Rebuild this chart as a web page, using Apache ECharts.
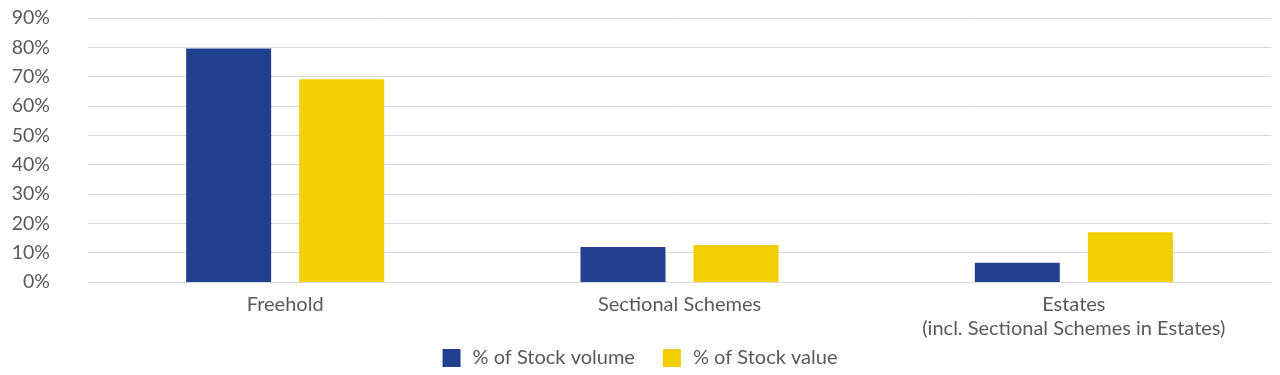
<!DOCTYPE html>
<html><head><meta charset="utf-8">
<script src="https://cdn.jsdelivr.net/npm/echarts@6/dist/echarts.min.js"></script>
<style>html,body{margin:0;padding:0;background:#fff}#c{width:1280px;height:375px}</style>
</head><body><div id="c"></div>
<script>
const categories = ['Freehold', 'Sectional Schemes', 'Estates\n(incl. Sectional Schemes in Estates)'];
const stockVolume = [79.6, 11.9, 6.6];
const stockValue = [69.1, 12.6, 17.0];
const seriesNames = ['% of Stock volume', '% of Stock value'];
const yMin = 0, yMax = 90, yStep = 10;

const font = 'Lato, "Source Sans Pro", "Noto Sans", sans-serif';
const chart = echarts.init(document.getElementById('c'));
chart.setOption({
  animation: false,
  textStyle: { fontFamily: font },
  grid: { left: 88, right: 9, top: 18, bottom: 93, containLabel: false },
  legend: {
    data: seriesNames, bottom: 2, left: 'center', itemWidth: 18, itemHeight: 18, itemGap: 28,
    icon: 'rect',
    textStyle: { color: '#595959', fontSize: 20, fontFamily: font, padding: [0, 0, 0, 7] }
  },
  xAxis: {
    type: 'category', data: categories,
    axisLine: { lineStyle: { color: '#d9d9d9' } },
    axisTick: { show: false },
    axisLabel: { color: '#595959', fontSize: 20, margin: 11, lineHeight: 24, fontFamily: font }
  },
  yAxis: {
    type: 'value', min: yMin, max: yMax, interval: yStep,
    axisLabel: { formatter: '{value}%', color: '#595959', fontSize: 19.5, margin: 38, fontFamily: font },
    splitLine: { lineStyle: { color: '#d9d9d9' } },
    axisLine: { show: false }, axisTick: { show: false }
  },
  series: [
    { name: seriesNames[0], type: 'bar', data: stockVolume, barWidth: 85, barGap: '33%',
      itemStyle: { color: '#22408e' } },
    { name: seriesNames[1], type: 'bar', data: stockValue, barWidth: 85,
      itemStyle: { color: '#f0ce00' } }
  ]
});
</script></body></html>
